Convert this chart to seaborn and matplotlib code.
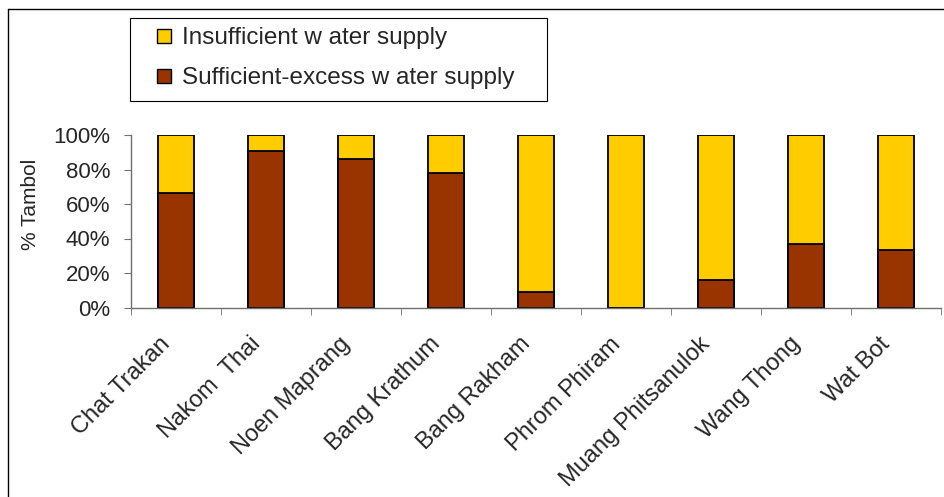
import matplotlib
matplotlib.use("Agg")
import matplotlib.pyplot as plt
import matplotlib.transforms as mtransforms
import seaborn as sns
import pandas as pd
from matplotlib.ticker import PercentFormatter, FixedLocator
from matplotlib.patches import Rectangle
from matplotlib.lines import Line2D

# data (% of tambol)
districts = ['Chat Trakan', 'Nakom  Thai', 'Noen Maprang', 'Bang Krathum', 'Bang Rakham',
             'Phrom Phiram', 'Muang Phitsanulok', 'Wang Thong', 'Wat Bot']
sufficient = [66.3, 91.0, 85.8, 77.9, 9.1, 0.0, 15.7, 36.6, 33.6]
insufficient = [100 - v for v in sufficient]
legend_labels = ['Insufficient w ater supply', 'Sufficient-excess w ater supply']

yellow = '#FFCC00'
brown = '#993300'

df = pd.DataFrame({'district': districts,
                   'sufficient': sufficient,
                   'total': [s + i for s, i in zip(sufficient, insufficient)]})

sns.set_style('white')
plt.rcParams['font.family'] = ['Liberation Sans', 'DejaVu Sans']

fig = plt.figure(figsize=(9.45, 4.97), dpi=100)
ax = fig.add_axes([131 / 945, 1 - 307.5 / 497, 810 / 945, 172.5 / 497])

# stacked bars: full-height yellow first, brown share on top of it
sns.barplot(data=df, x='district', y='total', color=yellow, width=0.4,
            edgecolor='black', linewidth=1.3, saturation=1, ax=ax)
sns.barplot(data=df, x='district', y='sufficient', color=brown, width=0.4,
            edgecolor='black', linewidth=1.3, saturation=1, ax=ax)

ax.set_xlim(-0.5, len(districts) - 0.5)
ax.set_ylim(0, 100)
ax.yaxis.set_major_locator(FixedLocator([0, 20, 40, 60, 80, 100]))
ax.yaxis.set_major_formatter(PercentFormatter(decimals=0))
ax.set_xlabel('')
ax.set_ylabel('% Tambol', fontsize=15)
ax.yaxis.set_label_coords((40 - 131) / 810, 0.6)

for s in ['top', 'right']:
    ax.spines[s].set_visible(False)
for s in ['left', 'bottom']:
    ax.spines[s].set_color('#707070')
    ax.spines[s].set_linewidth(1)

ax.tick_params(axis='y', which='major', direction='out', length=5, color='#707070',
               left=True, labelsize=16, pad=10)
ax.set_xticks(range(len(districts)))
ax.set_xticklabels(districts, rotation=45, ha='right', va='center',
                   rotation_mode='anchor', fontsize=17)
ax.tick_params(axis='x', which='major', length=0, pad=24)
shift = mtransforms.ScaledTranslation(-0.09, 0, fig.dpi_scale_trans)
for lab in ax.get_xticklabels():
    lab.set_transform(lab.get_transform() + shift)
ax.set_xticks([i - 0.5 for i in range(len(districts) + 1)], minor=True)
ax.tick_params(axis='x', which='minor', direction='out', length=5, color='#707070', bottom=True)

# legend
handles = [Line2D([], [], marker='s', markersize=10, markerfacecolor=c, markeredgecolor='black',
                  markeredgewidth=1, linestyle='none') for c in [yellow, brown]]
fig.legend(handles, legend_labels, loc='upper left',
           bbox_to_anchor=(143 / 945, 1 - 21 / 497), frameon=False, fontsize=17.5,
           handlelength=1.24, handletextpad=0.1, borderpad=0.25, labelspacing=0.75,
           borderaxespad=0)
fig.add_artist(Rectangle((130 / 945, 1 - 101 / 497), 417 / 945, 83 / 497, fill=False,
                         edgecolor='black', lw=0.8, transform=fig.transFigure))

# outer chart-area border (top and left edges visible)
fig.add_artist(Line2D([8 / 945, 8 / 945], [0, 1 - 9 / 497], color='black', lw=1,
                      transform=fig.transFigure))
fig.add_artist(Line2D([8 / 945, 1], [1 - 9 / 497, 1 - 9 / 497], color='black', lw=1,
                      transform=fig.transFigure))

fig.savefig('out.png', dpi=100)
